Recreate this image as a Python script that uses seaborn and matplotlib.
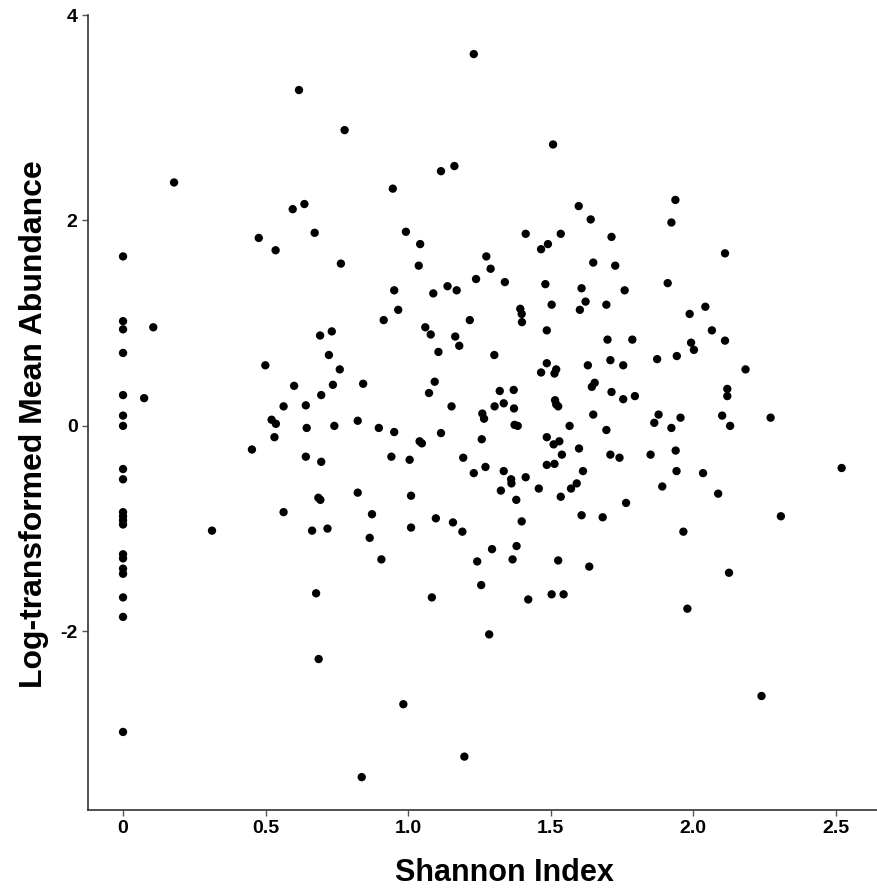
import pandas as pd
import seaborn as sns
import matplotlib.pyplot as plt

# Shannon index (x) and log-transformed mean abundance (y)
shannon = [
    0.617, 0.777, 0.179, 0.636, 0.595, 0.672, 0.476, 0.535, 0.0, 0.764,
    1.230, 1.508, 1.115, 1.162, 0.946, 1.598, 1.640, 1.713, 0.992, 1.042,
    1.412, 1.535, 1.490, 1.466, 1.037, 1.274, 1.289, 1.649, 1.726,
    1.937, 1.923, 2.111,
    0.0, 0.0, 0.106, 0.0, 0.499, 0.691, 0.732, 0.722, 0.760, 0.600,
    0.736, 0.695, 0.0, 0.074, 0.563, 0.641, 0.0, 0.0, 0.521, 0.536,
    0.644, 0.741, 0.531, 0.452, 0.641, 0.695, 0.0, 0.0, 0.685, 0.692,
    0.563, 0.0, 0.0, 0.0, 0.0, 0.312, 0.663, 0.717,
    0.0, 0.0, 0.0, 0.0, 0.0, 0.0, 0.0, 0.677, 0.686,
    1.238, 1.339, 0.951, 1.138, 1.170, 1.088, 1.481, 1.608, 1.622, 1.602,
    1.695, 1.503, 0.965, 0.914, 1.216, 1.393, 1.398, 1.399, 1.486, 1.060,
    1.079, 1.165, 1.179, 1.106, 1.302, 1.699, 1.709, 1.630, 1.486, 1.466,
    1.513, 1.519, 0.842, 1.093, 1.073, 1.321, 1.370, 1.654, 1.644, 1.713,
    1.152, 1.303, 1.335, 1.371, 1.260, 1.266, 1.515, 1.519, 1.526, 1.649,
    0.823, 0.897, 0.951, 1.115, 1.373, 1.384, 1.566, 1.695, 1.486, 1.510,
    1.530, 1.040, 1.048, 1.258, 1.599, 0.941, 1.005, 1.193, 1.539, 1.709,
    1.486, 1.513, 1.271, 1.230, 1.335, 1.613, 1.361, 1.362, 1.412, 1.591,
    1.571, 0.823, 1.010, 1.325, 1.379, 1.458, 1.535, 0.873, 1.097, 1.157,
    1.010, 1.190, 1.398, 1.608, 1.682,
    0.865, 0.906, 1.294, 1.380, 1.242, 1.366, 1.526, 1.635, 1.256, 1.083,
    1.421, 1.503, 1.545, 1.284, 0.983, 1.197, 0.837,
    1.910, 1.759, 2.042, 1.987, 2.065, 1.786, 1.992, 2.002, 2.111, 1.754,
    1.873, 1.942, 2.183, 2.119, 2.119, 1.754, 1.795, 1.878, 1.863, 1.955,
    1.923, 2.101, 2.129, 2.271, 1.741, 1.850, 1.938, 1.941, 2.034, 2.520,
    1.891, 2.087, 1.764, 2.307, 1.965,
    2.125, 1.979, 2.239,
]

abundance = [
    3.27, 2.88, 2.37, 2.16, 2.11, 1.88, 1.83, 1.71, 1.65, 1.58,
    3.62, 2.74, 2.48, 2.53, 2.31, 2.14, 2.01, 1.84, 1.89, 1.77,
    1.87, 1.87, 1.77, 1.72, 1.56, 1.65, 1.53, 1.59, 1.56,
    2.20, 1.98, 1.68,
    1.02, 0.94, 0.96, 0.71, 0.59, 0.88, 0.92, 0.69, 0.55, 0.39,
    0.40, 0.30, 0.30, 0.27, 0.19, 0.20, 0.10, 0.00, 0.06, 0.02,
    -0.02, 0.00, -0.11, -0.23, -0.30, -0.35, -0.42, -0.52, -0.70, -0.72,
    -0.84, -0.84, -0.88, -0.92, -0.96, -1.02, -1.02, -1.00,
    -1.25, -1.29, -1.39, -1.44, -1.67, -1.86, -2.98, -1.63, -2.27,
    1.43, 1.40, 1.32, 1.36, 1.32, 1.29, 1.38, 1.34, 1.21, 1.13,
    1.18, 1.18, 1.13, 1.03, 1.03, 1.14, 1.09, 1.01, 0.93, 0.96,
    0.89, 0.87, 0.78, 0.72, 0.69, 0.84, 0.64, 0.59, 0.61, 0.52,
    0.51, 0.55, 0.41, 0.43, 0.32, 0.34, 0.35, 0.42, 0.38, 0.33,
    0.19, 0.19, 0.22, 0.17, 0.12, 0.07, 0.25, 0.21, 0.19, 0.11,
    0.05, -0.02, -0.06, -0.07, 0.01, 0.00, 0.00, -0.04, -0.11, -0.18,
    -0.15, -0.15, -0.17, -0.13, -0.22, -0.30, -0.33, -0.31, -0.28, -0.28,
    -0.38, -0.37, -0.40, -0.46, -0.44, -0.44, -0.52, -0.56, -0.50, -0.56,
    -0.61, -0.65, -0.68, -0.63, -0.72, -0.61, -0.69, -0.86, -0.90, -0.94,
    -0.99, -1.03, -0.93, -0.87, -0.89,
    -1.09, -1.30, -1.20, -1.17, -1.32, -1.30, -1.31, -1.37, -1.55, -1.67,
    -1.69, -1.64, -1.64, -2.03, -2.71, -3.22, -3.42,
    1.39, 1.32, 1.16, 1.09, 0.93, 0.84, 0.81, 0.74, 0.83, 0.59,
    0.65, 0.68, 0.55, 0.36, 0.29, 0.26, 0.29, 0.11, 0.03, 0.08,
    -0.02, 0.10, 0.00, 0.08, -0.31, -0.28, -0.24, -0.44, -0.46, -0.41,
    -0.59, -0.66, -0.75, -0.88, -1.03,
    -1.43, -1.78, -2.63,
]

x_ticks = [0, 0.5, 1.0, 1.5, 2.0, 2.5]
x_tick_labels = ["0", "0.5", "1.0", "1.5", "2.0", "2.5"]
y_ticks = [-2, 0, 2, 4]
y_tick_labels = ["-2", "0", "2", "4"]

df = pd.DataFrame({"Shannon Index": shannon, "Abundance": abundance})

sns.set_theme(style="ticks", rc={"text.color": "black", "axes.labelcolor": "black",
                                 "xtick.labelcolor": "black", "ytick.labelcolor": "black"})
plt.rcParams["font.family"] = ["Liberation Sans", "DejaVu Sans"]

fig = plt.figure(figsize=(8.77, 8.91), dpi=100)
ax = fig.add_axes([0.1003, 0.0909, 0.8997, 0.8922])

sns.scatterplot(data=df, x="Shannon Index", y="Abundance", ax=ax,
                color="black", s=36, edgecolor="none", linewidth=0)

ax.set_xlim(-0.123, 2.644)
ax.set_ylim(-3.74, 4.0)
ax.set_xticks(x_ticks)
ax.set_xticklabels(x_tick_labels)
ax.set_yticks(y_ticks)
ax.set_yticklabels(y_tick_labels)

ax.set_xlabel("Shannon Index", fontsize=22, fontweight="bold")
ax.set_ylabel("Log-transformed Mean Abundance", fontsize=23, fontweight="bold")
ax.xaxis.set_label_coords(0.528, -0.060)
ax.yaxis.set_label_coords(-0.050, 0.485)
ax.tick_params(axis="both", labelsize=14, length=4, width=1, color="#555555")
for lab in ax.get_xticklabels() + ax.get_yticklabels():
    lab.set_fontweight("bold")

sns.despine(ax=ax)
for side in ["left", "bottom"]:
    ax.spines[side].set_color("#333333")
    ax.spines[side].set_linewidth(1.2)

plt.savefig("out.png", dpi=100)
